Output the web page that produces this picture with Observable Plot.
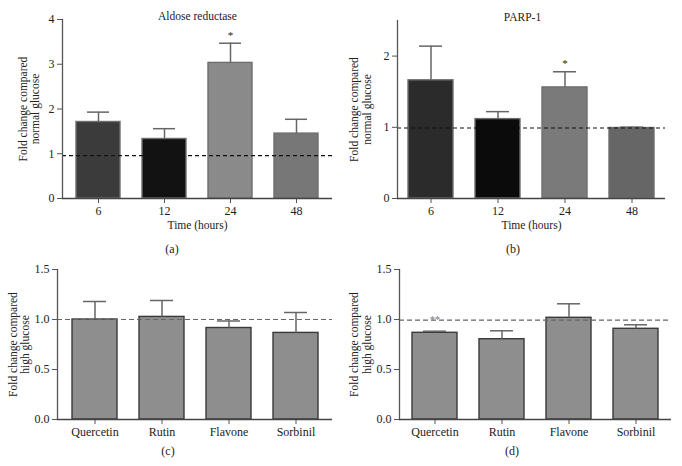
<!DOCTYPE html>
<html><head><meta charset="utf-8">
<script src="https://cdn.jsdelivr.net/npm/d3@7"></script>
<script src="https://cdn.jsdelivr.net/npm/@observablehq/plot@0.6"></script>
<style>
body{margin:0;background:#fff;}
#root{position:relative;width:682px;height:466px;overflow:hidden;}
.panel{position:absolute;}
.cap{position:absolute;font:12px "Liberation Serif",serif;color:#222;transform:translate(-50%,-50%);white-space:nowrap;}
</style></head><body><div id="root"></div>
<script>
// ---- data ----
const timeLabels = ["6", "12", "24", "48"];
const aldoseMean = [1.71, 1.33, 3.03, 1.45];
const aldoseErr  = [0.22, 0.23, 0.44, 0.32];
const aldoseStars = ["", "", "*", ""];
const parpMean = [1.66, 1.115, 1.56, 0.99];
const parpErr  = [0.48, 0.105, 0.22, 0.012];
const parpStars = ["", "", "*", ""];
const compounds = ["Quercetin", "Rutin", "Flavone", "Sorbinil"];
const cMean = [1.0, 1.026, 0.915, 0.866];
const cErr  = [0.18, 0.164, 0.07, 0.204];
const cStars = ["", "", "", ""];
const dMean = [0.867, 0.803, 1.017, 0.907];
const dErr  = [0.016, 0.084, 0.14, 0.04];
const dStars = ["**", "", "", ""];
const refTop = [0.96, 0.99];
const refBottom = [1.0, 0.993];
const ticksTop = [[0, 1, 2, 3, 4], [0, 1, 2]];
const ticksBottom = [0, 0.5, 1.0, 1.5];

// ---- styles ----
const colorsA = ["#3b3b3b", "#121212", "#8a8a8a", "#777777"];
const colorsB = ["#2b2b2b", "#0b0b0b", "#7a7a7a", "#666666"];
const colorsC = ["#8e8e8e", "#8e8e8e", "#8e8e8e", "#8e8e8e"];
const FONT = "Liberation Serif, Times New Roman, serif";

function panel(o) {
  const data = o.cats.map((c, i) => ({cat: c, mean: o.mean[i], err: o.err[i], star: o.stars[i]}));
  return Plot.plot({
    width: o.width, height: o.height,
    marginLeft: o.ml, marginRight: o.mr, marginTop: o.mt, marginBottom: o.mb,
    style: {fontFamily: FONT, fontSize: "12px", color: "#222", background: "transparent", overflow: "visible"},
    x: {domain: o.cats, paddingInner: 0.33, paddingOuter: o.po, label: null},
    y: {domain: o.yDomain, label: null},
    color: {domain: o.cats, range: o.colors},
    marks: [
      Plot.barY(data, {x: "cat", y: "mean", fill: "cat", stroke: o.barStroke, strokeWidth: 1.4}),
      Plot.ruleX(data, {x: "cat", y1: "mean", y2: d => d.mean + d.err, stroke: "#666", strokeWidth: 1.5}),
      Plot.tickY(data, {x: "cat", y: d => d.mean + d.err, stroke: "#666", strokeWidth: 1.5, insetLeft: 11, insetRight: 11}),
      Plot.ruleY([o.ref], {stroke: o.refColor, strokeWidth: 1.2, strokeDasharray: o.dash}),
      Plot.text(data, {x: "cat", y: d => d.mean + d.err, text: "star", dy: o.starDy, fontSize: o.starSize, fill: o.starColor}),
      Plot.axisY({ticks: o.yTicks, tickFormat: o.tickFormat, tickSize: 5, tickPadding: 3, fontSize: 12, stroke: "#555", fill: "#222", label: null}),
      Plot.axisX({tickSize: 5, tickPadding: 3, fontSize: 12, stroke: "#555", fill: "#222", label: null}),
      Plot.frame({anchor: "left", stroke: "#555", strokeWidth: 1.3}),
      Plot.ruleY([o.yDomain[0]], {stroke: "#444", strokeWidth: 1.3}),
      Plot.text([0], {frameAnchor: "left", text: () => o.ylabel, rotate: -90, textAnchor: "middle", lineAnchor: "middle", dx: o.ylDx, lineHeight: 1.1, fontSize: 11.5, fill: "#222"}),
      o.title ? Plot.text([0], {frameAnchor: "top", text: () => o.title, dy: -8, dx: o.titleDx || 0, fontSize: 11.5, fill: "#222"}) : null,
      o.xlabel ? Plot.text([0], {frameAnchor: "bottom", text: () => o.xlabel, dy: 30, fontSize: 11.5, fill: "#222"}) : null
    ].filter(Boolean)
  });
}

const specs = [
  {left: 0, top: 0, width: 341, height: 233, ml: 62, mr: 9, mt: 19, mb: 35, po: 0.18,
   cats: timeLabels, mean: aldoseMean, err: aldoseErr, stars: aldoseStars, colors: colorsA, barStroke: "#6e6e6e",
   yDomain: [0, 4], yTicks: ticksTop[0], tickFormat: d => d, ref: refTop[0], refColor: "#111", dash: "4,3",
   starDy: -8, starSize: 11, starColor: "#222",
   ylabel: "Fold change compared\nnormal glucose", ylDx: -33.5, title: "Aldose reductase", xlabel: "Time (hours)"},
  {left: 341, top: 0, width: 341, height: 233, ml: 56, mr: 17, mt: 20, mb: 35, po: 0.165,
   cats: timeLabels, mean: parpMean, err: parpErr, stars: parpStars, colors: colorsB, barStroke: "#6e6e6e",
   yDomain: [0, 2.5], yTicks: ticksTop[1], tickFormat: d => d, ref: refTop[1], refColor: "#111", dash: "4,3",
   starDy: -8, starSize: 11, starColor: "#222",
   ylabel: "Fold change compared\nnormal glucose", ylDx: -37, title: "PARP-1", titleDx: -9, xlabel: "Time (hours)"},
  {left: 0, top: 233, width: 341, height: 233, ml: 57, mr: 9, mt: 36, mb: 47, po: 0.21,
   cats: compounds, mean: cMean, err: cErr, stars: cStars, colors: colorsC, barStroke: "#3a3a3a",
   yDomain: [0, 1.5], yTicks: ticksBottom, tickFormat: d3.format(".1f"), ref: refBottom[0], refColor: "#666", dash: "5,3",
   starDy: -8, starSize: 10, starColor: "#666",
   ylabel: "Fold change compared\nhigh glucose", ylDx: -38.5},
  {left: 341, top: 233, width: 341, height: 233, ml: 58, mr: 11, mt: 36, mb: 47, po: 0.18,
   cats: compounds, mean: dMean, err: dErr, stars: dStars, colors: colorsC, barStroke: "#3a3a3a",
   yDomain: [0, 1.5], yTicks: ticksBottom, tickFormat: d3.format(".1f"), ref: refBottom[1], refColor: "#666", dash: "5,3",
   starDy: -11, starSize: 10, starColor: "#777",
   ylabel: "Fold change compared\nhigh glucose", ylDx: -39}
];

const root = document.getElementById("root");
for (const s of specs) {
  const div = document.createElement("div");
  div.className = "panel";
  div.style.left = s.left + "px";
  div.style.top = s.top + "px";
  div.appendChild(panel(s));
  root.appendChild(div);
}
const caps = [["(a)", 172, 249], ["(b)", 513, 249], ["(c)", 168, 451], ["(d)", 512, 451]];
for (const [t, x, y] of caps) {
  const c = document.createElement("div");
  c.className = "cap";
  c.textContent = t;
  c.style.left = x + "px";
  c.style.top = y + "px";
  root.appendChild(c);
}
</script></body></html>
